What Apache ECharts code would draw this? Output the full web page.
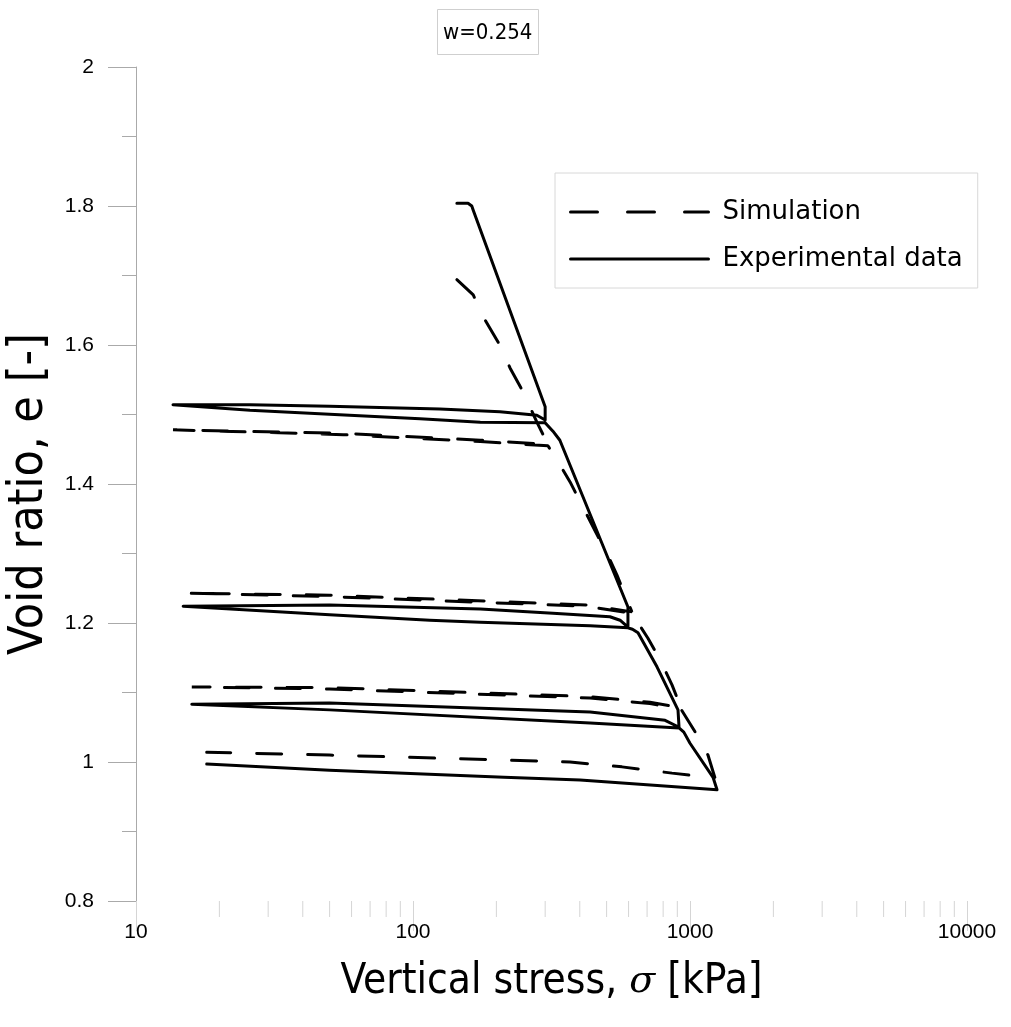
<!DOCTYPE html>
<html><head><meta charset="utf-8">
<script src="https://cdn.jsdelivr.net/npm/echarts@6/dist/echarts.min.js"></script>
<style>html,body{margin:0;padding:0;background:#fff}#c{width:1011px;height:1027px}</style>
</head><body><div id="c"></div>
<script>
// x: vertical stress sigma [kPa], y: void ratio e [-]
const xMin = 10, xMax = 10000;
const yMin = 0.8, yMax = 2, yStep = 0.2;
const minorTickValues = [20,30,40,50,60,70,80,90,200,300,400,500,600,700,800,900,2000,3000,4000,5000,6000,7000,8000,9000];

const simulation = [
  [144,1.694],[165,1.672],[182,1.636],[203,1.604],[224,1.567],[248,1.535],[280,1.489],[307,1.457],
  [175,1.463],[56,1.473],[13.6,1.478],
  [56,1.471],[175,1.461],[307,1.455],
  [334,1.432],[369,1.403],[514,1.291],[545,1.269],[617,1.216],
  [425,1.226],[50,1.240],[15,1.243],
  [50,1.238],[425,1.224],[617,1.214],
  [705,1.178],[780,1.147],[861,1.111],[928,1.078],
  [717,1.086],[436,1.094],[50,1.107],[15.9,1.108],
  [50,1.105],[436,1.092],[717,1.084],[928,1.076],
  [1060,1.039],[1161,1.010],[1231,0.977],
  [861,0.984],[568,0.993],[369,1.000],[50,1.010],[18,1.014]
];

const experimental = [
  [144,1.804],[158,1.804],[163,1.800],[165,1.794],[300,1.511],[300,1.492],
  [280,1.499],[206,1.504],[125,1.508],[50,1.512],[25.8,1.514],[13.6,1.514],
  [25.8,1.506],[59,1.499],[106,1.494],[175,1.489],[300,1.488],
  [305,1.485],[320,1.476],[339,1.463],[597,1.223],[597,1.194],
  [559,1.204],[514,1.209],[320,1.214],[175,1.220],[50,1.226],[14.8,1.224],
  [50,1.212],[115,1.204],[175,1.201],[436,1.196],[597,1.193],
  [620,1.191],[649,1.186],[760,1.137],[905,1.075],[913,1.050],
  [813,1.060],[436,1.072],[50,1.085],[15.9,1.083],
  [50,1.075],[436,1.056],[913,1.049],
  [950,1.043],[1000,1.027],[1211,0.978],[1252,0.960],
  [401,0.974],[213,0.978],[50,0.988],[18,0.997]
];

const chart = echarts.init(document.getElementById('c'), null, {renderer:'canvas'});
const condFont = 'DejaVu Sans Condensed, DejaVu Sans, sans-serif';
chart.setOption({
  animation: false,
  backgroundColor: '#fff',
  title: {
    text: 'w=0.254', left: 437, top: 9, padding: [13, 6, 11, 6],
    borderColor: '#cfcfcf', borderWidth: 1,
    textStyle: {fontFamily: condFont, fontSize: 22, fontWeight: 'normal', color: '#000'}
  },
  legend: {
    orient: 'vertical', left: 555, top: 173,
    padding: [26, 15, 16, 14],
    itemWidth: 138, itemHeight: 26, itemGap: 21,
    borderColor: '#d8d8d8', borderWidth: 1,
    itemStyle: {opacity: 0},
    textStyle: {fontFamily: 'DejaVu Sans, sans-serif', fontSize: 26, color: '#000', padding: [0,0,0,9]},
    data: [
      {name: 'Simulation', itemStyle: {opacity: 0}, lineStyle: {type: [27, 30], width: 3, color: '#000'}},
      {name: 'Experimental data', itemStyle: {opacity: 0}, lineStyle: {type: 'solid', width: 3, color: '#000'}}
    ]
  },
  grid: {left: 136, right: 44, top: 67, bottom: 126, outerBoundsMode: 'none', containLabel: false},
  xAxis: {
    type: 'log', logBase: 10, min: xMin, max: xMax,
    name: '{a|Vertical stress, }{b|σ}{a| [kPa]}', nameLocation: 'middle', nameGap: 60,
    nameTextStyle: {rich: {
      a: {fontFamily: condFont, fontSize: 42, color: '#000'},
      b: {fontFamily: 'DejaVu Serif, serif', fontStyle: 'italic', fontSize: 38, color: '#000'}
    }},
    axisLine: {show: false},
    axisTick: {show: true, length: 30, lineStyle: {color: '#d5d5d5', width: 1}},
    axisLabel: {fontFamily: 'Liberation Sans, Arial, sans-serif', fontSize: 21, color: '#000', margin: 21,
                formatter: function (v) { return String(Math.round(v)); }},
    splitLine: {show: false}, minorTick: {show: false}
  },
  yAxis: {
    type: 'value', min: yMin, max: yMax, interval: yStep,
    name: 'Void ratio, e [-]', nameLocation: 'middle', nameGap: 82,
    nameTextStyle: {fontFamily: condFont, fontSize: 48, color: '#000', padding: [0, 20, 0, 0]},
    axisLine: {show: true, lineStyle: {color: '#aaaaaa', width: 1}},
    axisTick: {show: true, length: 28, lineStyle: {color: '#aaaaaa', width: 1}},
    minorTick: {show: true, splitNumber: 2, length: 14, lineStyle: {color: '#aaaaaa', width: 1}},
    axisLabel: {fontFamily: 'Liberation Sans, Arial, sans-serif', fontSize: 21, color: '#000', margin: 42},
    splitLine: {show: false}
  },
  series: [
    {
      name: 'Simulation', type: 'line', data: simulation, showSymbol: false, symbol: 'none',
      lineStyle: {color: '#000', width: 3, type: [25, 26], cap: 'round'}, z: 3
    },
    {
      name: 'Experimental data', type: 'line', data: experimental, showSymbol: false, symbol: 'none',
      lineStyle: {color: '#000', width: 3, join: 'round', cap: 'round'}, z: 4
    },
    {
      name: 'minorTicks', type: 'custom', silent: true, clip: false,
      data: minorTickValues.map(v => [v]),
      encode: {x: 0},
      renderItem: function (params, api) {
        const p = api.coord([api.value(0), yMin]);
        return {type: 'line', shape: {x1: p[0], y1: p[1], x2: p[0], y2: p[1] + 16},
                style: {stroke: '#d5d5d5', lineWidth: 1}};
      }
    }
  ]
});
</script></body></html>
